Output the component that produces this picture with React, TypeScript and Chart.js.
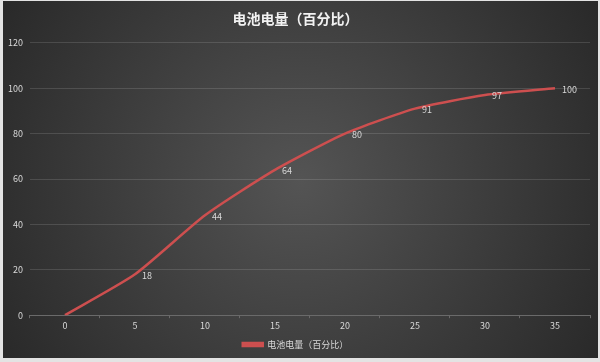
import React, { useEffect, useRef } from "react";
import { Chart, registerables } from "chart.js";

Chart.register(...registerables);

const titleText = "电池电量（百分比）";
const seriesName = "电池电量（百分比）";
const categories = ["0", "5", "10", "15", "20", "25", "30", "35"];
const values = [0, 18, 44, 64, 80, 91, 97, 100];
const yMin = 0;
const yMax = 120;
const yStep = 20;

const FONT = "'Noto Sans CJK SC', 'Noto Sans', sans-serif";
const LINE = "#cd4f4f";
const TEXT = "#d9d9d9";

const bgPlugin = {
  id: "bgPlugin",
  beforeDraw(chart: any) {
    const { ctx, width, height } = chart;
    ctx.save();
    ctx.fillStyle = "#e3e3e3";
    ctx.fillRect(0, 0, width, height);
    const g = ctx.createRadialGradient(width / 2, height / 2, 0, width / 2, height / 2, width * 0.62);
    g.addColorStop(0, "#545454");
    g.addColorStop(1, "#262626");
    ctx.fillStyle = g;
    ctx.fillRect(3, 1, width - 5, height - 5);
    ctx.restore();
  },
};

const labelPlugin = {
  id: "labelPlugin",
  afterDatasetsDraw(chart: any) {
    const { ctx } = chart;
    const meta = chart.getDatasetMeta(0);
    const data = chart.data.datasets[0].data;
    ctx.save();
    ctx.fillStyle = TEXT;
    ctx.font = `9px ${FONT}`;
    ctx.textAlign = "left";
    ctx.textBaseline = "middle";
    meta.data.forEach((pt: any, i: number) => {
      if (i === 0) return;
      ctx.fillText(String(data[i]), pt.x + 7, pt.y + 1);
    });
    ctx.restore();
  },
};

export default function App() {
  const ref = useRef<HTMLCanvasElement>(null);
  useEffect(() => {
    document.body.style.margin = "0";
    const chart = new Chart(ref.current!, {
      type: "line",
      data: {
        labels: categories,
        datasets: [
          {
            label: seriesName,
            data: values,
            borderColor: LINE,
            backgroundColor: LINE,
            borderWidth: 2.5,
            pointRadius: 0,
            tension: 0.2,
          },
        ],
      },
      options: {
        responsive: false,
        animation: false,
        layout: { padding: { left: 1, right: 10, top: 2, bottom: 3 } },
        plugins: {
          title: {
            display: true,
            text: titleText,
            color: "#f2f2f2",
            font: { family: FONT, size: 14, weight: "bold" },
            padding: { top: 8, bottom: 16 },
          },
          legend: {
            position: "bottom",
            labels: {
              color: TEXT,
              font: { family: FONT, size: 9 },
              boxWidth: 20,
              boxHeight: 3,
              padding: 7,
            },
          },
          tooltip: { enabled: false },
        },
        scales: {
          x: {
            type: "category",
            offset: true,
            grid: {
              offset: true,
              drawOnChartArea: false,
              drawTicks: true,
              tickLength: 3,
              color: "#6a6a6a",
            },
            border: { display: true, color: "#6a6a6a" },
            ticks: { color: TEXT, font: { family: FONT, size: 9 }, padding: 2 },
          },
          y: {
            min: yMin,
            max: yMax,
            ticks: { stepSize: yStep, color: TEXT, font: { family: FONT, size: 9 }, padding: 7 },
            grid: { color: "rgba(255,255,255,0.13)", drawTicks: false },
            border: { display: false },
          },
        },
      },
      plugins: [bgPlugin, labelPlugin],
    } as any);
    return () => chart.destroy();
  }, []);
  return <canvas ref={ref} width={600} height={362} style={{ display: "block" }} />;
}
